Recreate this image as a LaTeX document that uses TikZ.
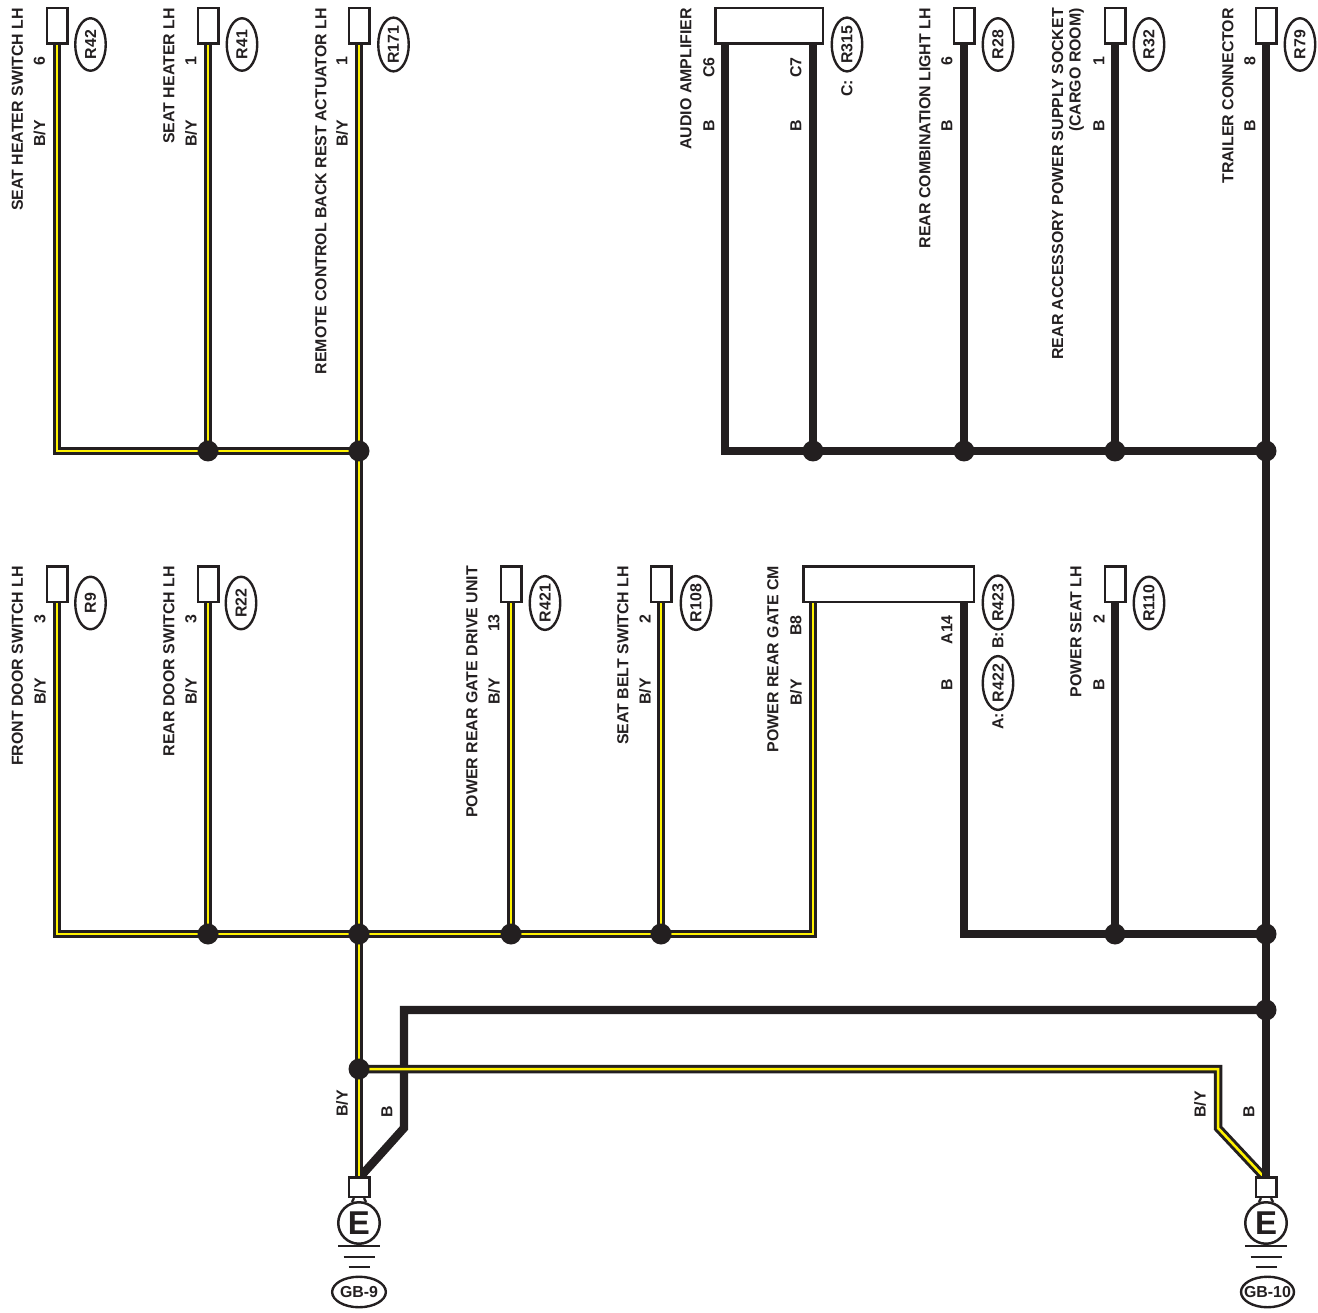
\documentclass[tikz,border=0pt]{standalone}
\usepackage{fontspec}
\setmainfont{Liberation Sans}
\usetikzlibrary{positioning,shapes.geometric,backgrounds}
\definecolor{ink}{HTML}{231F20}
\definecolor{wireyellow}{HTML}{FFF200}

\begin{document}
\begin{tikzpicture}
[x=1pt,y=-1pt,
txt/.style={inner sep=0pt,text=ink,font=\bfseries\fontsize{15.9}{17.5}\selectfont},
lbl/.style={txt,rotate=90,anchor=east},
con/.style={draw=ink,fill=white,line width=2.5pt,minimum width=20.5pt,minimum height=35.5pt,inner sep=0pt},
wide/.style={con,minimum width=#1},
gcon/.style={con,minimum height=19.5pt},
earth/.style={circle,draw=ink,fill=white,line width=2.5pt,minimum size=41.5pt,inner sep=0pt,text=ink,font=\bfseries\fontsize{33}{33}\selectfont},
loc/.style={txt,ellipse,draw=ink,line width=2.4pt,minimum width=52.5pt,minimum height=30.5pt,rotate=90},
gloc/.style={txt,ellipse,draw=ink,line width=2.4pt,minimum width=53pt,minimum height=30.5pt},
gline/.style={draw=ink,line width=2.4pt},
jct/.style={circle,fill=ink,minimum size=21pt,inner sep=0pt},
bw/.style={draw=ink,line width=8.4pt},
byw/.style={draw=ink,line width=3pt,double=wireyellow,double distance=2.5pt}]
\useasboundingbox (0,0) rectangle (1318,1313);

% top row
\node[con] (r42con) at (57,26) {};
\node[con, right=128pt of r42con] (r41con) {};
\node[con, right=128pt of r41con] (r171con) {};
\node[wide=107.5pt] (r315con) at (769,26) {};
\node[con] (r28con) at (964,26) {};
\node[con, right=128pt of r28con] (r32con) {};
\node[con, right=128pt of r32con] (r79con) {};

\node[loc] (r42) at (90.5,44.5) {R42};
\node[loc] (r41) at (242,44.5) {R41};
\node[loc] (r171) at (393.5,44.5) {R171};
\node[loc] (r315) at (847,44.5) {R315};
\node[loc] (r28) at (998,44.5) {R28};
\node[loc] (r32) at (1149,44.5) {R32};
\node[loc] (r79) at (1300,44.5) {R79};

\node[lbl] (n42) at (17.5,8) {SEAT HEATER SWITCH LH};
\node[lbl] (p42) at (39.5,56) {6};
\node[lbl] (w42) at (39.5,120) {B/Y};
\node[lbl] (n41) at (169,8) {SEAT HEATER LH};
\node[lbl] (p41) at (191,56) {1};
\node[lbl] (w41) at (191,120) {B/Y};
\node[lbl] (n171) at (321,8) {REMOTE CONTROL BACK REST ACTUATOR LH};
\node[lbl] (p171) at (342,56) {1};
\node[lbl] (w171) at (342,120) {B/Y};
\node[lbl] (n315) at (686,8) {AUDIO AMPLIFIER};
\node[lbl] (p315a) at (709,57) {C6};
\node[lbl] (w315a) at (709,120) {B};
\node[lbl] (p315b) at (796,57) {C7};
\node[lbl] (w315b) at (796,120) {B};
\node[lbl] (c315) at (847,80) {C:};
\node[lbl] (n28) at (925,8) {REAR COMBINATION LIGHT LH};
\node[lbl] (p28) at (947,56) {6};
\node[lbl] (w28) at (947,120) {B};
\node[lbl,align=right] (n32) at (1068,8) {REAR ACCESSORY POWER SUPPLY SOCKET\\(CARGO ROOM)};
\node[lbl] (p32) at (1099,56) {1};
\node[lbl] (w32) at (1099,120) {B};
\node[lbl] (n79) at (1228,8) {TRAILER CONNECTOR};
\node[lbl] (p79) at (1250,56) {8};
\node[lbl] (w79) at (1250,120) {B};

% middle row
\node[con, below=520pt of r42con] (r9con) {};
\node[con, right=128pt of r9con] (r22con) {};
\node[con, right=280pt of r22con] (r421con) {};
\node[con, right=127pt of r421con] (r108con) {};
\node[wide=170.5pt] (r423con) at (888.5,584) {};
\node[con, below=520pt of r32con] (r110con) {};

\node[loc] (r9) at (90.5,603) {R9};
\node[loc] (r22) at (241,603) {R22};
\node[loc] (r421) at (545,603) {R421};
\node[loc] (r108) at (696,603) {R108};
\node[loc] (r423) at (998,602.5) {R423};
\node[loc] (r422) at (998,683) {R422};
\node[loc] (r110) at (1149,603) {R110};

\node[lbl] (n9) at (17.5,566) {FRONT DOOR SWITCH LH};
\node[lbl] (p9) at (40,614) {3};
\node[lbl] (w9) at (40,678) {B/Y};
\node[lbl] (n22) at (169,566) {REAR DOOR SWITCH LH};
\node[lbl] (p22) at (191,614) {3};
\node[lbl] (w22) at (191,678) {B/Y};
\node[lbl] (n421) at (472,566) {POWER REAR GATE DRIVE UNIT};
\node[lbl] (p421) at (494,614) {13};
\node[lbl] (w421) at (494,678) {B/Y};
\node[lbl] (n108) at (623,566) {SEAT BELT SWITCH LH};
\node[lbl] (p108) at (645,614) {2};
\node[lbl] (w108) at (645,678) {B/Y};
\node[lbl] (n423) at (773,566) {POWER REAR GATE CM};
\node[lbl] (p423a) at (796,615) {B8};
\node[lbl] (w423a) at (796,679) {B/Y};
\node[lbl] (p423b) at (947,615) {A14};
\node[lbl] (w423b) at (947,679) {B};
\node[lbl] (c423) at (998,632) {B:};
\node[lbl] (c422) at (998,713) {A:};
\node[lbl] (n110) at (1076,566) {POWER SEAT LH};
\node[lbl] (p110) at (1099,614) {2};
\node[lbl] (w110) at (1099,679) {B};

% junctions
\node[jct] (j41) at (208,451) {};
\node[jct] (j171) at (359,451) {};
\node[jct] (jc7) at (813,451) {};
\node[jct] (j28) at (964,451) {};
\node[jct] (j32) at (1115,451) {};
\node[jct] (j79) at (1266,451) {};
\node[jct] (j22) at (208,934) {};
\node[jct] (jmid) at (359,934) {};
\node[jct] (j421) at (511,934) {};
\node[jct] (j108) at (661,934) {};
\node[jct] (j110) at (1115,934) {};
\node[jct] (jr) at (1266,934) {};
\node[jct] (jbk) at (1266,1010) {};
\node[jct] (jby) at (359,1069) {};

% earth points
\node[gcon] (gb9con) at (359,1187) {};
\node[gcon, right=884pt of gb9con] (gb10con) {};
\node[earth, below=3pt of gb9con] (e9) {E};
\node[earth, below=3pt of gb10con] (e10) {E};
\node[gloc] (gb9) at (359,1292) {GB-9};
\node[gloc] (gb10) at (1267.5,1292) {\makebox[30pt]{GB-10}};
\draw[gline] ([xshift=-5pt]gb9con.south) -- ([xshift=-7pt,yshift=-4pt]gb9con.south);
\draw[gline] ([xshift=5pt]gb9con.south) -- ([xshift=7pt,yshift=-4pt]gb9con.south);
\draw[gline] ([xshift=-5pt]gb10con.south) -- ([xshift=-7pt,yshift=-4pt]gb10con.south);
\draw[gline] ([xshift=5pt]gb10con.south) -- ([xshift=7pt,yshift=-4pt]gb10con.south);
\draw[gline] ([xshift=-21pt,yshift=-23pt]e9.center) -- ([xshift=21pt,yshift=-23pt]e9.center);
\draw[gline] ([xshift=-15.5pt,yshift=-34pt]e9.center) -- ([xshift=15.5pt,yshift=-34pt]e9.center);
\draw[gline] ([xshift=-10.5pt,yshift=-44pt]e9.center) -- ([xshift=10.5pt,yshift=-44pt]e9.center);
\draw[gline] ([xshift=-21pt,yshift=-23pt]e10.center) -- ([xshift=21pt,yshift=-23pt]e10.center);
\draw[gline] ([xshift=-15.5pt,yshift=-34pt]e10.center) -- ([xshift=15.5pt,yshift=-34pt]e10.center);
\draw[gline] ([xshift=-10.5pt,yshift=-44pt]e10.center) -- ([xshift=10.5pt,yshift=-44pt]e10.center);

\node[lbl] (wg9a) at (342,1090) {B/Y};
\node[lbl] (wg9b) at (387,1106) {B};
\node[lbl] (wg10a) at (1200,1091) {B/Y};
\node[lbl] (wg10b) at (1249,1106) {B};

\coordinate (c6) at (725,45);
\coordinate (c7) at (813,45);
\coordinate (a14) at (964,603);
\coordinate (b8) at (813,603);
\coordinate (bkbend) at (404,1128);
\coordinate (bybend) at (1218,1128);

\begin{scope}[on background layer]
% black wires
\draw[bw] (c6) -- (c6 |- j79) -- (j79.center);
\draw[bw] (c7) -- (jc7.center);
\draw[bw] (r28con.south) -- (j28.center);
\draw[bw] (r32con.south) -- (j32.center);
\draw[bw] (a14) -- (a14 |- jr) -- (jr.center);
\draw[bw] (r110con.south) -- (j110.center);
\draw[bw] (jbk.center) -- (bkbend |- jbk) -- (bkbend) -- ([xshift=2pt]gb9con.north);
% B/Y wires
\draw[byw] (r42con.south) -- (r42con.south |- j171) -- (j171.center);
\draw[byw] (r41con.south) -- (j41.center);
\draw[byw] (r171con.south) -- (gb9con.north);
\draw[byw] (r9con.south) -- (r9con.south |- jmid) -- (b8 |- jmid) -- (b8);
\draw[byw] (r22con.south) -- (j22.center);
\draw[byw] (r421con.south) -- (j421.center);
\draw[byw] (r108con.south) -- (j108.center);
\draw[byw] (jby.center) -- (bybend |- jby) -- (bybend) -- ([xshift=-3pt]gb10con.north);
\draw[bw] (r79con.south) -- (gb10con.north);
\end{scope}
\end{tikzpicture}
\end{document}
